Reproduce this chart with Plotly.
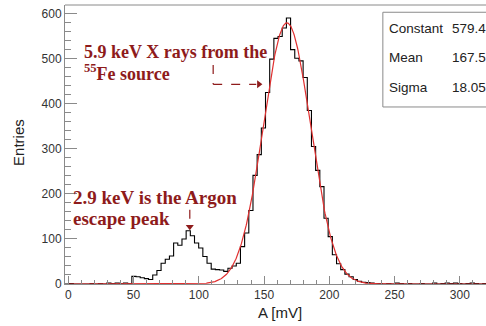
import numpy as np
import plotly.graph_objects as go

# ---- data ----
BIN_LOW = -2.5
BIN_WIDTH = 3.2
counts = [
    0, 1, 0, 0, 0, 0, 1, 0, 1, 0,
    2, 1, 2, 1, 2, 1, 17, 16, 14, 12,
    10, 20, 30, 46, 55, 62, 91, 86, 100, 118,
    107, 91, 80, 61, 46, 33, 32, 31, 28, 35,
    40, 46, 83, 113, 163, 241, 287, 346, 425, 499,
    545, 549, 568, 590, 520, 501, 495, 458, 385, 305,
    252, 216, 146, 105, 65, 45, 32, 22, 16, 10,
    6, 4, 3, 2, 1, 1, 0, 1, 0, 2,
    1, 0, 1, 0, 0, 1, 0, 0, 2, 0,
    1, 2, 1, 2, 1, 0, 1, 2, 1, 0,
    1,
]
FIT_CONSTANT = 579.4
FIT_MEAN = 167.5
FIT_SIGMA = 18.05
stat_names = ["Constant", "Mean", "Sigma"]
stat_values = ["579.4", "167.5", "18.05"]
x_tick_values = [0, 50, 100, 150, 200, 250, 300]
y_tick_values = [0, 100, 200, 300, 400, 500, 600]
X_RANGE = [-2.5, 320]
Y_RANGE = [0, 619]

DARKRED = "#8e1b1b"
FRAME = "#8a8a8a"

edges = BIN_LOW + BIN_WIDTH * np.arange(len(counts) + 1)
step_y = list(counts) + [counts[-1]]

xf = np.linspace(0, 320, 961)
yf = FIT_CONSTANT * np.exp(-0.5 * ((xf - FIT_MEAN) / FIT_SIGMA) ** 2)

fig = go.Figure()
fig.add_trace(go.Scatter(x=edges, y=step_y, mode="lines", line_shape="hv",
                         line=dict(color="black", width=1.1), hoverinfo="skip"))
fig.add_trace(go.Scatter(x=xf, y=yf, mode="lines",
                         line=dict(color="#e03030", width=1.2), hoverinfo="skip"))

axis_font = dict(family="Liberation Sans, Arial, sans-serif", size=12, color="#333333")
fig.update_layout(
    template="none",
    width=486, height=326,
    margin=dict(l=65, r=0, t=5, b=42, autoexpand=False),
    paper_bgcolor="white", plot_bgcolor="white",
    showlegend=False,
    xaxis=dict(range=X_RANGE, tickvals=x_tick_values, ticks="inside", ticklen=8,
               tickcolor=FRAME, showline=True, linecolor=FRAME, linewidth=1,
               showgrid=False, zeroline=False, tickfont=axis_font, automargin=False,
               minor=dict(dtick=10, ticks="inside", ticklen=4, tickcolor=FRAME, showgrid=False)),
    yaxis=dict(range=Y_RANGE, tickvals=y_tick_values, ticks="inside", ticklen=12,
               tickcolor=FRAME, showline=True, linecolor=FRAME, linewidth=1,
               showgrid=False, zeroline=False, tickfont=axis_font, automargin=False,
               minor=dict(dtick=20, ticks="inside", ticklen=6, tickcolor=FRAME, showgrid=False)),
)

# top frame line
fig.add_shape(type="line", xref="paper", yref="paper", x0=0, x1=1, y0=1, y1=1,
              line=dict(color=FRAME, width=1))

# stats box
fig.add_shape(type="rect", xref="paper", yref="paper", x0=0.755, x1=1.05, y0=0.6345, y1=0.974,
              line=dict(color=FRAME, width=1), fillcolor="white")
stat_font = dict(family="Liberation Sans, Arial, sans-serif", size=13.5, color="#222222")
for i, (n, v) in enumerate(zip(stat_names, stat_values)):
    yy = 0.917 - i * 0.106
    fig.add_annotation(x=0.765, y=yy, xref="paper", yref="paper", text=n, showarrow=False,
                       xanchor="left", yanchor="middle", font=stat_font)
    fig.add_annotation(x=0.915, y=yy, xref="paper", yref="paper", text=v, showarrow=False,
                       xanchor="left", yanchor="middle", font=stat_font)

# axis titles
title_font = dict(family="Liberation Sans, Arial, sans-serif", size=15, color="#222222")
fig.add_annotation(x=-0.109, y=0.506, xref="paper", yref="paper", text="Entries",
                   textangle=-90, showarrow=False, font=title_font,
                   xanchor="center", yanchor="middle")
fig.add_annotation(x=0.511, y=-0.103, xref="paper", yref="paper", text="A [mV]",
                   showarrow=False, font=title_font, xanchor="center", yanchor="middle")

# red annotations
labels = [
    (10.5, 515, "<b>5.9 keV X rays from the</b>", 18),
    (10.5, 469, "<b><sup>55</sup>Fe source</b>", 18),
    (2.0, 192, "<b>2.9 keV is the Argon</b>", 19),
    (2.0, 145.5, "<b>escape peak</b>", 19),
]
for x, y, t, s in labels:
    fig.add_annotation(x=x, y=y, text=t, showarrow=False, xanchor="left", yanchor="middle",
                       font=dict(family="Liberation Serif, Times New Roman, serif",
                                 size=s, color=DARKRED))

# dashed arrows with arrowheads as markers
dash_line = dict(color=DARKRED, width=1.2, dash="dash")
fig.add_shape(type="line", x0=111, x1=111, y0=486, y1=443, line=dash_line)
fig.add_shape(type="line", x0=111, x1=144, y0=443, y1=443, line=dash_line)
fig.add_shape(type="line", x0=93.1, x1=93.1, y0=165, y1=130, line=dash_line)
fig.add_trace(go.Scatter(x=[146], y=[443], mode="markers", hoverinfo="skip",
                         marker=dict(symbol="triangle-right", size=7, color=DARKRED)))
fig.add_trace(go.Scatter(x=[93.1], y=[127], mode="markers", hoverinfo="skip",
                         marker=dict(symbol="triangle-down", size=7, color=DARKRED)))

fig.write_html("out.html", config={"displayModeBar": False},
               post_script="document.body.style.margin='0';document.body.style.overflow='hidden';")
